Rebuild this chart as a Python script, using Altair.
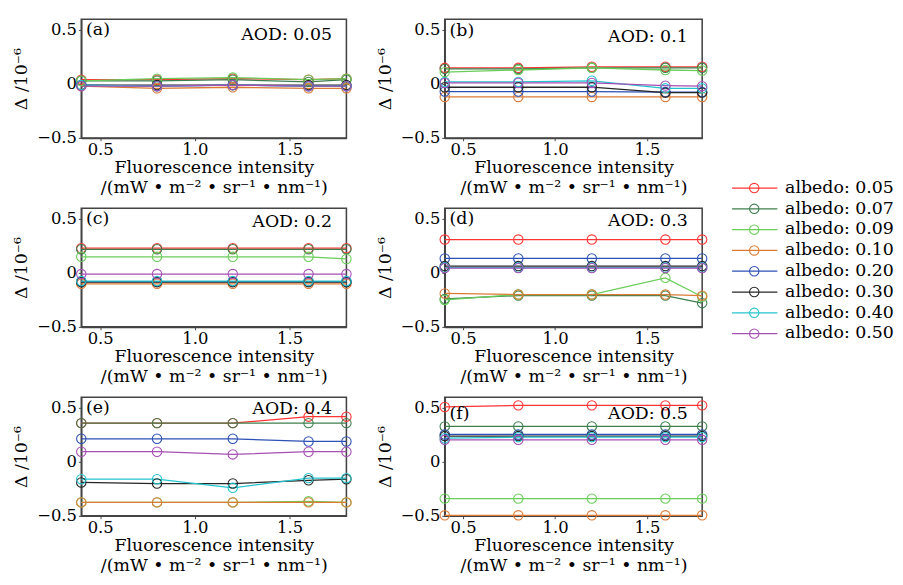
import altair as alt
import pandas as pd

FONT = "DejaVu Serif"

x_vals = [0.4, 0.8, 1.2, 1.6, 1.8]
albedos = ["albedo: 0.05", "albedo: 0.07", "albedo: 0.09", "albedo: 0.10",
           "albedo: 0.20", "albedo: 0.30", "albedo: 0.40", "albedo: 0.50"]
colors = ["#ff3434", "#3c7f4d", "#6acd5a", "#dc7a36", "#2c50b6", "#262626", "#24c4cf", "#a64fb4"]

# values (x 10^-6) per albedo, at x_vals
panel_a = [
    [0.04, 0.04, 0.05, 0.04, 0.05],
    [0.03, 0.03, 0.04, 0.02, 0.04],
    [0.03, 0.05, 0.06, 0.04, 0.05],
    [-0.02, -0.04, -0.03, -0.04, -0.04],
    [-0.01, -0.02, -0.01, -0.02, -0.02],
    [-0.01, -0.01, -0.01, -0.01, -0.01],
    [-0.01, -0.02, -0.01, -0.02, -0.02],
    [-0.02, -0.02, -0.01, -0.02, -0.02],
]
panel_b = [
    [0.15, 0.15, 0.16, 0.16, 0.16],
    [0.14, 0.14, 0.15, 0.15, 0.15],
    [0.11, 0.13, 0.15, 0.13, 0.125],
    [-0.12, -0.12, -0.12, -0.12, -0.12],
    [-0.07, -0.07, -0.07, -0.075, -0.075],
    [-0.03, -0.03, -0.03, -0.08, -0.08],
    [0.02, 0.02, 0.03, -0.04, -0.04],
    [0.01, 0.01, 0.01, -0.015, -0.02],
]
panel_c = [
    [0.23, 0.23, 0.23, 0.23, 0.23],
    [0.22, 0.22, 0.22, 0.22, 0.22],
    [0.15, 0.15, 0.15, 0.15, 0.13],
    [-0.1, -0.1, -0.1, -0.1, -0.1],
    [-0.08, -0.08, -0.08, -0.08, -0.08],
    [-0.085, -0.085, -0.085, -0.085, -0.085],
    [-0.075, -0.075, -0.075, -0.075, -0.075],
    [-0.01, -0.01, -0.01, -0.01, -0.01],
]
panel_d = [
    [0.31, 0.31, 0.31, 0.31, 0.31],
    [-0.24, -0.21, -0.21, -0.21, -0.28],
    [-0.25, -0.2, -0.2, -0.045, -0.22],
    [-0.19, -0.2, -0.2, -0.2, -0.21],
    [0.135, 0.135, 0.135, 0.135, 0.135],
    [0.064, 0.064, 0.064, 0.064, 0.064],
    [0.05, 0.05, 0.05, 0.05, 0.05],
    [0.045, 0.045, 0.045, 0.045, 0.045],
]
panel_e = [
    [0.36, 0.36, 0.36, 0.42, 0.42],
    [0.36, 0.36, 0.36, 0.36, 0.36],
    [-0.375, -0.375, -0.375, -0.365, -0.375],
    [-0.375, -0.375, -0.375, -0.375, -0.375],
    [0.215, 0.215, 0.215, 0.19, 0.19],
    [-0.19, -0.2, -0.2, -0.17, -0.16],
    [-0.16, -0.16, -0.24, -0.15, -0.15],
    [0.095, 0.095, 0.07, 0.095, 0.095],
]
panel_f = [
    [0.51, 0.525, 0.525, 0.525, 0.525],
    [0.33, 0.33, 0.33, 0.33, 0.33],
    [-0.34, -0.34, -0.34, -0.34, -0.34],
    [-0.495, -0.495, -0.495, -0.495, -0.495],
    [0.255, 0.255, 0.255, 0.255, 0.255],
    [0.24, 0.24, 0.24, 0.24, 0.24],
    [0.22, 0.23, 0.23, 0.23, 0.23],
    [0.205, 0.205, 0.205, 0.205, 0.205],
]

letters = ["(a)", "(b)", "(c)", "(d)", "(e)", "(f)"]
aods = ["AOD: 0.05", "AOD: 0.1", "AOD: 0.2", "AOD: 0.3", "AOD: 0.4", "AOD: 0.5"]
panels = [panel_a, panel_b, panel_c, panel_d, panel_e, panel_f]

# style: (width, letter y offset, AOD y offset)
styles = [(275, 11, 16), (267, 12, 18), (275, 11, 14), (267, 11, 13), (275, 11, 12), (267, 18, 18)]
HEIGHT = 123

color_scale = alt.Scale(domain=albedos, range=colors)
x_title = ["Fluorescence intensity", "/(mW \u2022 m\u207b\u00b2 \u2022 sr\u207b\u00b9 \u2022 nm\u207b\u00b9)"]


def make_panel(values, letter, aod, style):
    w, ly, ay = style
    rows = []
    for k, (alb, ys) in enumerate(zip(albedos, values)):
        for x, y in zip(x_vals, ys):
            rows.append({"x": x, "y": y, "albedo": alb, "k": k})
    df = pd.DataFrame(rows)
    base = alt.Chart(df)
    xenc = alt.X("x:Q", scale=alt.Scale(domain=[0.4, 1.8], nice=False, zero=False),
                 axis=alt.Axis(values=[0.5, 1.0, 1.5], format=".1f", title=x_title))
    yenc = alt.Y("y:Q", scale=alt.Scale(domain=[-0.5, 0.6], nice=False, zero=False),
                 axis=alt.Axis(values=[-0.5, 0, 0.5], format=".1~f", title="\u0394 /10\u207b\u2076"))
    col = alt.Color("albedo:N", scale=color_scale, legend=None)
    lines = base.mark_line(strokeWidth=1.3).encode(xenc, yenc, col, order="x:Q")
    pts = base.mark_point(shape="circle", filled=False, size=95, strokeWidth=1.1, opacity=1).encode(
        x="x:Q", y="y:Q", color=col)
    lab = alt.Chart(pd.DataFrame({"t": [letter]})).mark_text(
        align="left", baseline="middle", font=FONT, fontSize=18, color="black").encode(
        x=alt.value(5), y=alt.value(ly), text="t:N")
    aodt = alt.Chart(pd.DataFrame({"t": [aod]})).mark_text(
        align="right", baseline="middle", font=FONT, fontSize=18, color="black").encode(
        x=alt.value(w - 15), y=alt.value(ay), text="t:N")
    return alt.layer(lines, pts, lab, aodt).properties(width=w, height=HEIGHT)


charts = [make_panel(p, l, a, s) for p, l, a, s in zip(panels, letters, aods, styles)]
grid = alt.vconcat(
    alt.hconcat(charts[0], charts[1], spacing=22),
    alt.hconcat(charts[2], charts[3], spacing=22),
    alt.hconcat(charts[4], charts[5], spacing=22),
    spacing=10,
)

leg_df = pd.DataFrame({"albedo": albedos})
leg_y = alt.Y("albedo:N", scale=alt.Scale(type="point", domain=albedos, range=[175, 326], padding=0),
              axis=None)
leg_col = alt.Color("albedo:N", scale=color_scale, legend=None)
leg_base = alt.Chart(leg_df)
leg_rule = leg_base.mark_rule(strokeWidth=1.3).encode(
    x=alt.value(0), x2=alt.value(47), y=leg_y, color=leg_col)
leg_pt = leg_base.mark_point(shape="circle", filled=False, size=95, strokeWidth=1.1, opacity=1).encode(
    x=alt.value(23), y=leg_y, color=leg_col)
leg_txt = leg_base.mark_text(align="left", baseline="middle", font=FONT, fontSize=18, color="black").encode(
    x=alt.value(55), y=leg_y, text="albedo:N")
legend = alt.layer(leg_rule, leg_pt, leg_txt).properties(
    width=140, height=340, view=alt.ViewBackground(stroke="transparent"))

chart = alt.hconcat(grid, legend, spacing=21).properties(
    padding={"left": 4, "top": 0, "right": 0, "bottom": 0}
).configure_view(
    stroke="#444444", strokeWidth=1.6
).configure_axis(
    grid=False, labelFont=FONT, titleFont=FONT, labelFontSize=17, titleFontSize=18,
    titleFontWeight="normal", labelColor="black", titleColor="black",
    domainColor="#444444", domainWidth=1.6, tickColor="#444444", tickSize=3,
).configure_axisX(
    labelPadding=1, titlePadding=2, titleLineHeight=21
).configure_axisY(
    labelPadding=2, titlePadding=6
)

chart.save("out.html", embed_options={"renderer": "svg", "actions": False})
